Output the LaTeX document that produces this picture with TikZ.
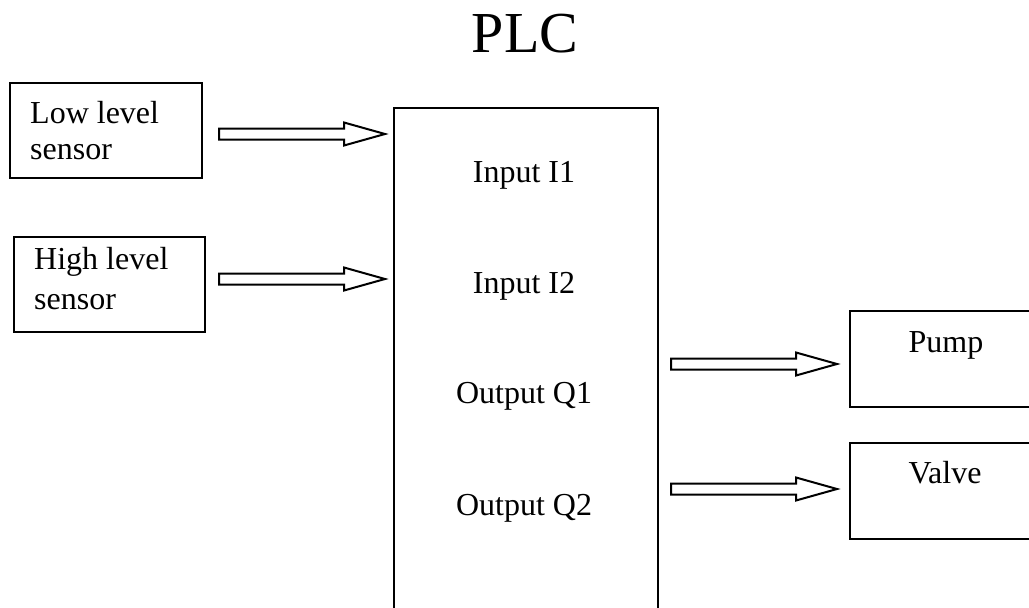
\documentclass[tikz,border=0pt]{standalone}
\usepackage{fontspec}
\setmainfont{Liberation Serif}
\usetikzlibrary{calc}

\tikzset{
  blk/.style={draw=black, line width=2pt, fill=white, inner sep=0pt},
  lbl/.style={font=\fontsize{32}{37}\selectfont, inner sep=0pt, text=black},
  hollow/.style={draw=black, line width=2pt, fill=white, line join=miter},
}

% Hollow block arrow from a start point to a tip, both on one horizontal line
\newcommand\hollowarrow[2]{%
  \path[hollow] let \p1=(#1), \p2=(#2) in
    (\x1,{\y1+5.5pt}) -- ({\x2-41pt},{\y1+5.5pt}) -- ({\x2-41pt},{\y1+11.5pt})
    -- (\x2,\y1) -- ({\x2-41pt},{\y1-11.5pt}) -- ({\x2-41pt},{\y1-5.5pt})
    -- (\x1,{\y1-5.5pt}) -- cycle;}

\begin{document}
\begin{tikzpicture}[x=1pt, y=-1pt]
  \useasboundingbox (0,0) rectangle (1029,608);
  \clip (0,0) rectangle (1029,608);
  \fill[white] (0,0) rectangle (1029,608);

  % Title
  \node[lbl, font=\fontsize{58}{64}\selectfont, anchor=base] (title) at (525,52) {PLC};

  % Controller body (runs off the lower edge)
  \node[blk, minimum width=264, minimum height=540, anchor=north west] (plc) at (393,107) {};
  \node[lbl, anchor=base] (i1) at (524,182) {Input I1};
  \node[lbl, anchor=base] (i2) at (524,293) {Input I2};
  \node[lbl, anchor=base] (q1) at (524,403) {Output Q1};
  \node[lbl, anchor=base] (q2) at (524,515) {Output Q2};

  % Sensors
  \node[blk, minimum width=192, minimum height=95, anchor=north west] (low) at (9,82) {};
  \node[lbl, anchor=base west] (lowtxt) at (30,123) {Low level};
  \node[lbl, anchor=base west] (lowtxt2) at (30,159) {sensor};
  \node[blk, minimum width=191, minimum height=95, anchor=north west] (high) at (13,236) {};
  \node[lbl, anchor=base west] (hightxt) at (34,269) {High level};
  \node[lbl, anchor=base west] (hightxt2) at (34,309) {sensor};

  % Actuators
  \node[blk, minimum width=180, minimum height=96, anchor=north west] (pump) at (849,310) {};
  \node[lbl, anchor=base] (pumptxt) at (946,352) {Pump};
  \node[blk, minimum width=180, minimum height=96, anchor=north west] (valve) at (849,442) {};
  \node[lbl, anchor=base] (valvetxt) at (945,483) {Valve};

  % Arrow end points
  \coordinate (a1s) at ($(low.east |- 0,134)+(16,0)$);
  \coordinate (a1t) at ($(plc.west |- 0,134)+(-8,0)$);
  \coordinate (a2s) at ($(high.east |- 0,279)+(13,0)$);
  \coordinate (a2t) at ($(plc.west |- 0,279)+(-8,0)$);
  \coordinate (a3s) at ($(plc.east |- 0,364)+(12,0)$);
  \coordinate (a3t) at ($(pump.west |- 0,364)+(-12,0)$);
  \coordinate (a4s) at ($(plc.east |- 0,489)+(12,0)$);
  \coordinate (a4t) at ($(valve.west |- 0,489)+(-12,0)$);

  \hollowarrow{a1s}{a1t}
  \hollowarrow{a2s}{a2t}
  \hollowarrow{a3s}{a3t}
  \hollowarrow{a4s}{a4t}
\end{tikzpicture}
\end{document}
